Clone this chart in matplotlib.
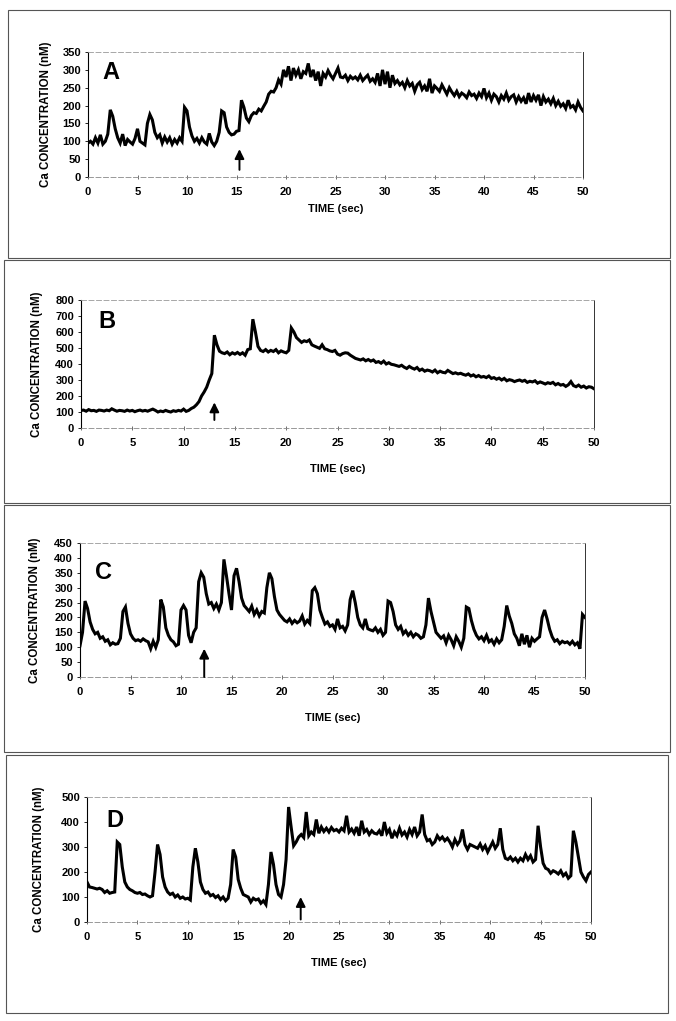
import numpy as np
import matplotlib
matplotlib.use("Agg")
import matplotlib.pyplot as plt
from matplotlib.patches import Rectangle

plt.rcParams['font.family'] = ['Liberation Sans', 'DejaVu Sans']
plt.rcParams['font.weight'] = 'bold'

dt = 0.25  # sampling step of the traces (sec)

trace_a = [95, 100, 92, 110, 95, 118, 92, 100, 120, 188,
           170, 135, 110, 95, 120, 88, 105, 98, 92, 108,
           135, 100, 95, 90, 150, 175, 160, 125, 110, 118,
           95, 112, 98, 110, 92, 105, 95, 110, 100, 195,
           185, 140, 115, 100, 108, 95, 110, 98, 92, 122,
           98, 88, 100, 125, 185, 180, 140, 125, 118, 120,
           128, 130, 215, 195, 165, 155, 172, 180, 178, 190,
           185, 198, 210, 232, 240, 238, 250, 272, 260, 300,
           280, 310, 270, 305, 285, 300, 275, 295, 290, 318,
           280, 300, 270, 295, 255, 290, 280, 298, 285, 275,
           290, 305, 280, 278, 285, 270, 282, 275, 280, 272,
           285, 270, 278, 285, 268, 275, 265, 290, 255, 300,
           260, 295, 250, 285, 262, 270, 258, 265, 250, 270,
           255, 262, 240, 258, 265, 245, 255, 240, 275, 235,
           255, 248, 240, 258, 245, 232, 250, 238, 228, 240,
           225, 235, 230, 222, 238, 228, 232, 220, 235, 225,
           248, 222, 235, 215, 232, 225, 210, 228, 218, 235,
           215, 225, 230, 210, 225, 212, 222, 205, 235, 210,
           228, 215, 230, 200, 225, 210, 218, 205, 220, 200,
           212, 198, 205, 192, 215, 195, 200, 188, 210, 195,
           185]

trace_b = [110, 112, 105, 115, 108, 110, 104, 112, 110, 106,
           112, 108, 120, 112, 105, 110, 108, 104, 112, 106,
           110, 102, 108, 112, 106, 110, 105, 112, 118, 110,
           100, 106, 102, 110, 104, 100, 108, 104, 110, 106,
           118, 104, 110, 122, 130, 145, 165, 200, 225, 255,
           300, 340, 580, 520, 480, 470, 465, 475, 458, 470,
           462, 472, 460, 470, 455, 490, 495, 680, 600, 510,
           485, 478, 490, 475, 485, 478, 490, 470, 482, 475,
           470, 485, 625, 600, 565, 550, 535, 545, 540, 550,
           520, 512, 505, 498, 520, 495, 490, 482, 478, 485,
           462, 455, 465, 470, 468, 455, 445, 435, 430, 425,
           432, 420, 428, 418, 425, 410, 415, 405, 418, 400,
           408, 398, 395, 390, 385, 392, 380, 372, 385, 375,
           368, 378, 360, 368, 355, 362, 358, 350, 362, 345,
           355, 348, 345, 360, 350, 340, 345, 338, 342, 335,
           330, 338, 325, 332, 320, 328, 318, 322, 315, 325,
           310, 315, 305, 312, 300, 310, 295, 302, 298, 290,
           296, 300, 292, 298, 285, 292, 288, 295, 280, 288,
           282, 275, 283, 278, 285, 270, 278, 268, 272, 260,
           270, 290, 265, 258, 268, 255, 262, 250, 258, 255,
           245]

trace_c = [105, 150, 255, 230, 185, 160, 145, 150, 130, 135,
           120, 125, 108, 115, 110, 112, 130, 220, 235, 180,
           145, 130, 122, 125, 120, 128, 122, 118, 95, 120,
           100, 125, 260, 235, 165, 140, 125, 118, 105, 110,
           225, 240, 225, 140, 115, 150, 165, 320, 350, 335,
           280, 245, 250, 230, 245, 225, 250, 395, 340, 280,
           225, 340, 365, 320, 265, 240, 230, 220, 238, 210,
           225, 205, 220, 215, 300, 350, 330, 270, 225, 210,
           200, 190, 185, 195, 180, 190, 182, 188, 205, 178,
           190, 180, 290, 300, 280, 225, 200, 178, 185, 170,
           175, 160, 195, 165, 170, 155, 175, 260, 290, 250,
           200, 175, 165, 195, 162, 158, 155, 165, 150, 160,
           140, 150, 255, 250, 220, 175, 160, 170, 145, 155,
           140, 150, 135, 145, 140, 130, 135, 175, 265, 220,
           185, 150, 140, 130, 138, 115, 140, 125, 105, 135,
           120, 100, 130, 235, 230, 190, 160, 140, 128, 135,
           122, 140, 118, 125, 110, 128, 115, 125, 170, 240,
           205, 180, 145, 130, 105, 145, 110, 140, 100, 130,
           120, 128, 135, 200, 225, 195, 160, 135, 120, 125,
           112, 120, 115, 118, 110, 120, 108, 115, 95, 210,
           200]

trace_d = [160, 140, 138, 135, 132, 135, 130, 118, 125, 115,
           118, 120, 320, 310, 220, 160, 140, 130, 125, 118,
           115, 118, 110, 112, 105, 100, 105, 200, 310, 270,
           180, 140, 120, 110, 115, 100, 108, 95, 100, 92,
           95, 88, 220, 295, 240, 160, 130, 115, 120, 105,
           110, 98, 105, 90, 100, 85, 95, 150, 290, 260,
           170, 135, 110, 105, 100, 80, 95, 88, 92, 75,
           85, 70, 150, 280, 230, 150, 110, 100, 150, 250,
           460, 380, 305, 320, 340, 350, 338, 440, 345, 360,
           350, 410, 355, 380, 362, 375, 360, 378, 365, 370,
           360, 375, 365, 425, 360, 372, 355, 380, 345, 405,
           360, 370, 350, 365, 355, 352, 365, 345, 400, 355,
           370, 335, 360, 345, 375, 348, 360, 340, 370, 350,
           380, 345, 360, 430, 350, 325, 330, 310, 320, 345,
           330, 340, 325, 335, 320, 300, 330, 310, 325, 370,
           310, 290, 310, 305, 300, 295, 312, 290, 305, 280,
           300, 320, 295, 310, 375, 290, 255, 250, 260, 245,
           255, 240, 255, 245, 270, 250, 265, 240, 250, 385,
           300, 235, 215, 210, 195, 205, 200, 192, 205, 185,
           195, 175, 185, 365, 320, 260, 200, 180, 165, 190,
           200]

traces = [trace_a, trace_b, trace_c, trace_d]
letters = ['A', 'B', 'C', 'D']
y_max = [350, 800, 450, 500]
y_step = [50, 100, 50, 100]
letter_xy = [(2.3, 292), (2.5, 668), (2.3, 352), (2.8, 408)]
arrow_x = [15.3, 13.0, 12.3, 21.2]
arrow_y0 = [20, 50, 0, 10]
arrow_y1 = [78, 160, 95, 100]

W, H = 676, 1021
fig = plt.figure(figsize=(W / 100, H / 100), dpi=100)

# axes boxes in pixels: left, right, top, bottom
boxes = [(88, 583, 52, 177), (81, 594, 300, 428), (80, 585, 543, 677), (87, 591, 797, 922)]
# outer panel frames in pixels: left, right, top, bottom
frames = [(8, 670, 10, 258), (4, 670, 260, 503), (4, 670, 505, 752), (6, 668, 755, 1013)]
time_label_y = [-0.22, -0.28, -0.27, -0.29]
ylabel_x = [-0.072, -0.074, -0.077, -0.083]

for (l, r, t, b) in frames:
    fig.patches.append(Rectangle((l / W, 1 - b / H), (r - l) / W, (b - t) / H,
                                 transform=fig.transFigure, fill=False,
                                 edgecolor='#555555', linewidth=0.8))

for i in range(4):
    l, r, t, b = boxes[i]
    ax = fig.add_axes([l / W, 1 - b / H, (r - l) / W, (b - t) / H])
    y = np.array(traces[i])
    x = np.arange(len(y)) * dt
    ax.plot(x, y, color='black', linewidth=2.2, solid_joinstyle='miter')

    ax.set_xlim(0, 50)
    ax.set_ylim(0, y_max[i])
    ax.set_xticks(np.arange(0, 51, 5))
    ax.set_yticks(np.arange(0, y_max[i] + 1, y_step[i]))
    ax.tick_params(axis='x', direction='inout', length=3, width=0.6, pad=6,
                   labelsize=8, colors='#555555', labelcolor='black')
    ax.tick_params(axis='y', direction='out', length=2, width=0.6, pad=3,
                   labelsize=8, labelcolor='black')
    for lab in ax.get_xticklabels() + ax.get_yticklabels():
        lab.set_fontweight('bold')

    ax.spines['left'].set_color('black')
    ax.spines['left'].set_linewidth(0.8)
    ax.spines['right'].set_color('#333333')
    ax.spines['right'].set_linewidth(0.7)
    ax.spines['top'].set_color('#999999')
    ax.spines['top'].set_linewidth(0.6)
    ax.spines['top'].set_linestyle((0, (6, 3)))
    ax.spines['bottom'].set_color('#888888')
    ax.spines['bottom'].set_linewidth(0.6)
    ax.spines['bottom'].set_linestyle((0, (6, 3)))

    ax.set_ylabel('Ca CONCENTRATION (nM)', fontsize=8.3, fontweight='bold')
    ax.yaxis.set_label_coords(ylabel_x[i], 0.5)
    ax.set_xlabel('TIME (sec)', fontsize=8, fontweight='bold', va='top')
    ax.xaxis.set_label_coords(0.5, time_label_y[i])

    ax.text(letter_xy[i][0], letter_xy[i][1], letters[i], fontsize=17,
            fontweight='bold', ha='center', va='center')
    ax.annotate('', xy=(arrow_x[i], arrow_y1[i]), xytext=(arrow_x[i], arrow_y0[i]),
                arrowprops=dict(arrowstyle='-|>', color='black', lw=1.4,
                                mutation_scale=14, shrinkA=0, shrinkB=0))

fig.savefig('out.png', dpi=100)
